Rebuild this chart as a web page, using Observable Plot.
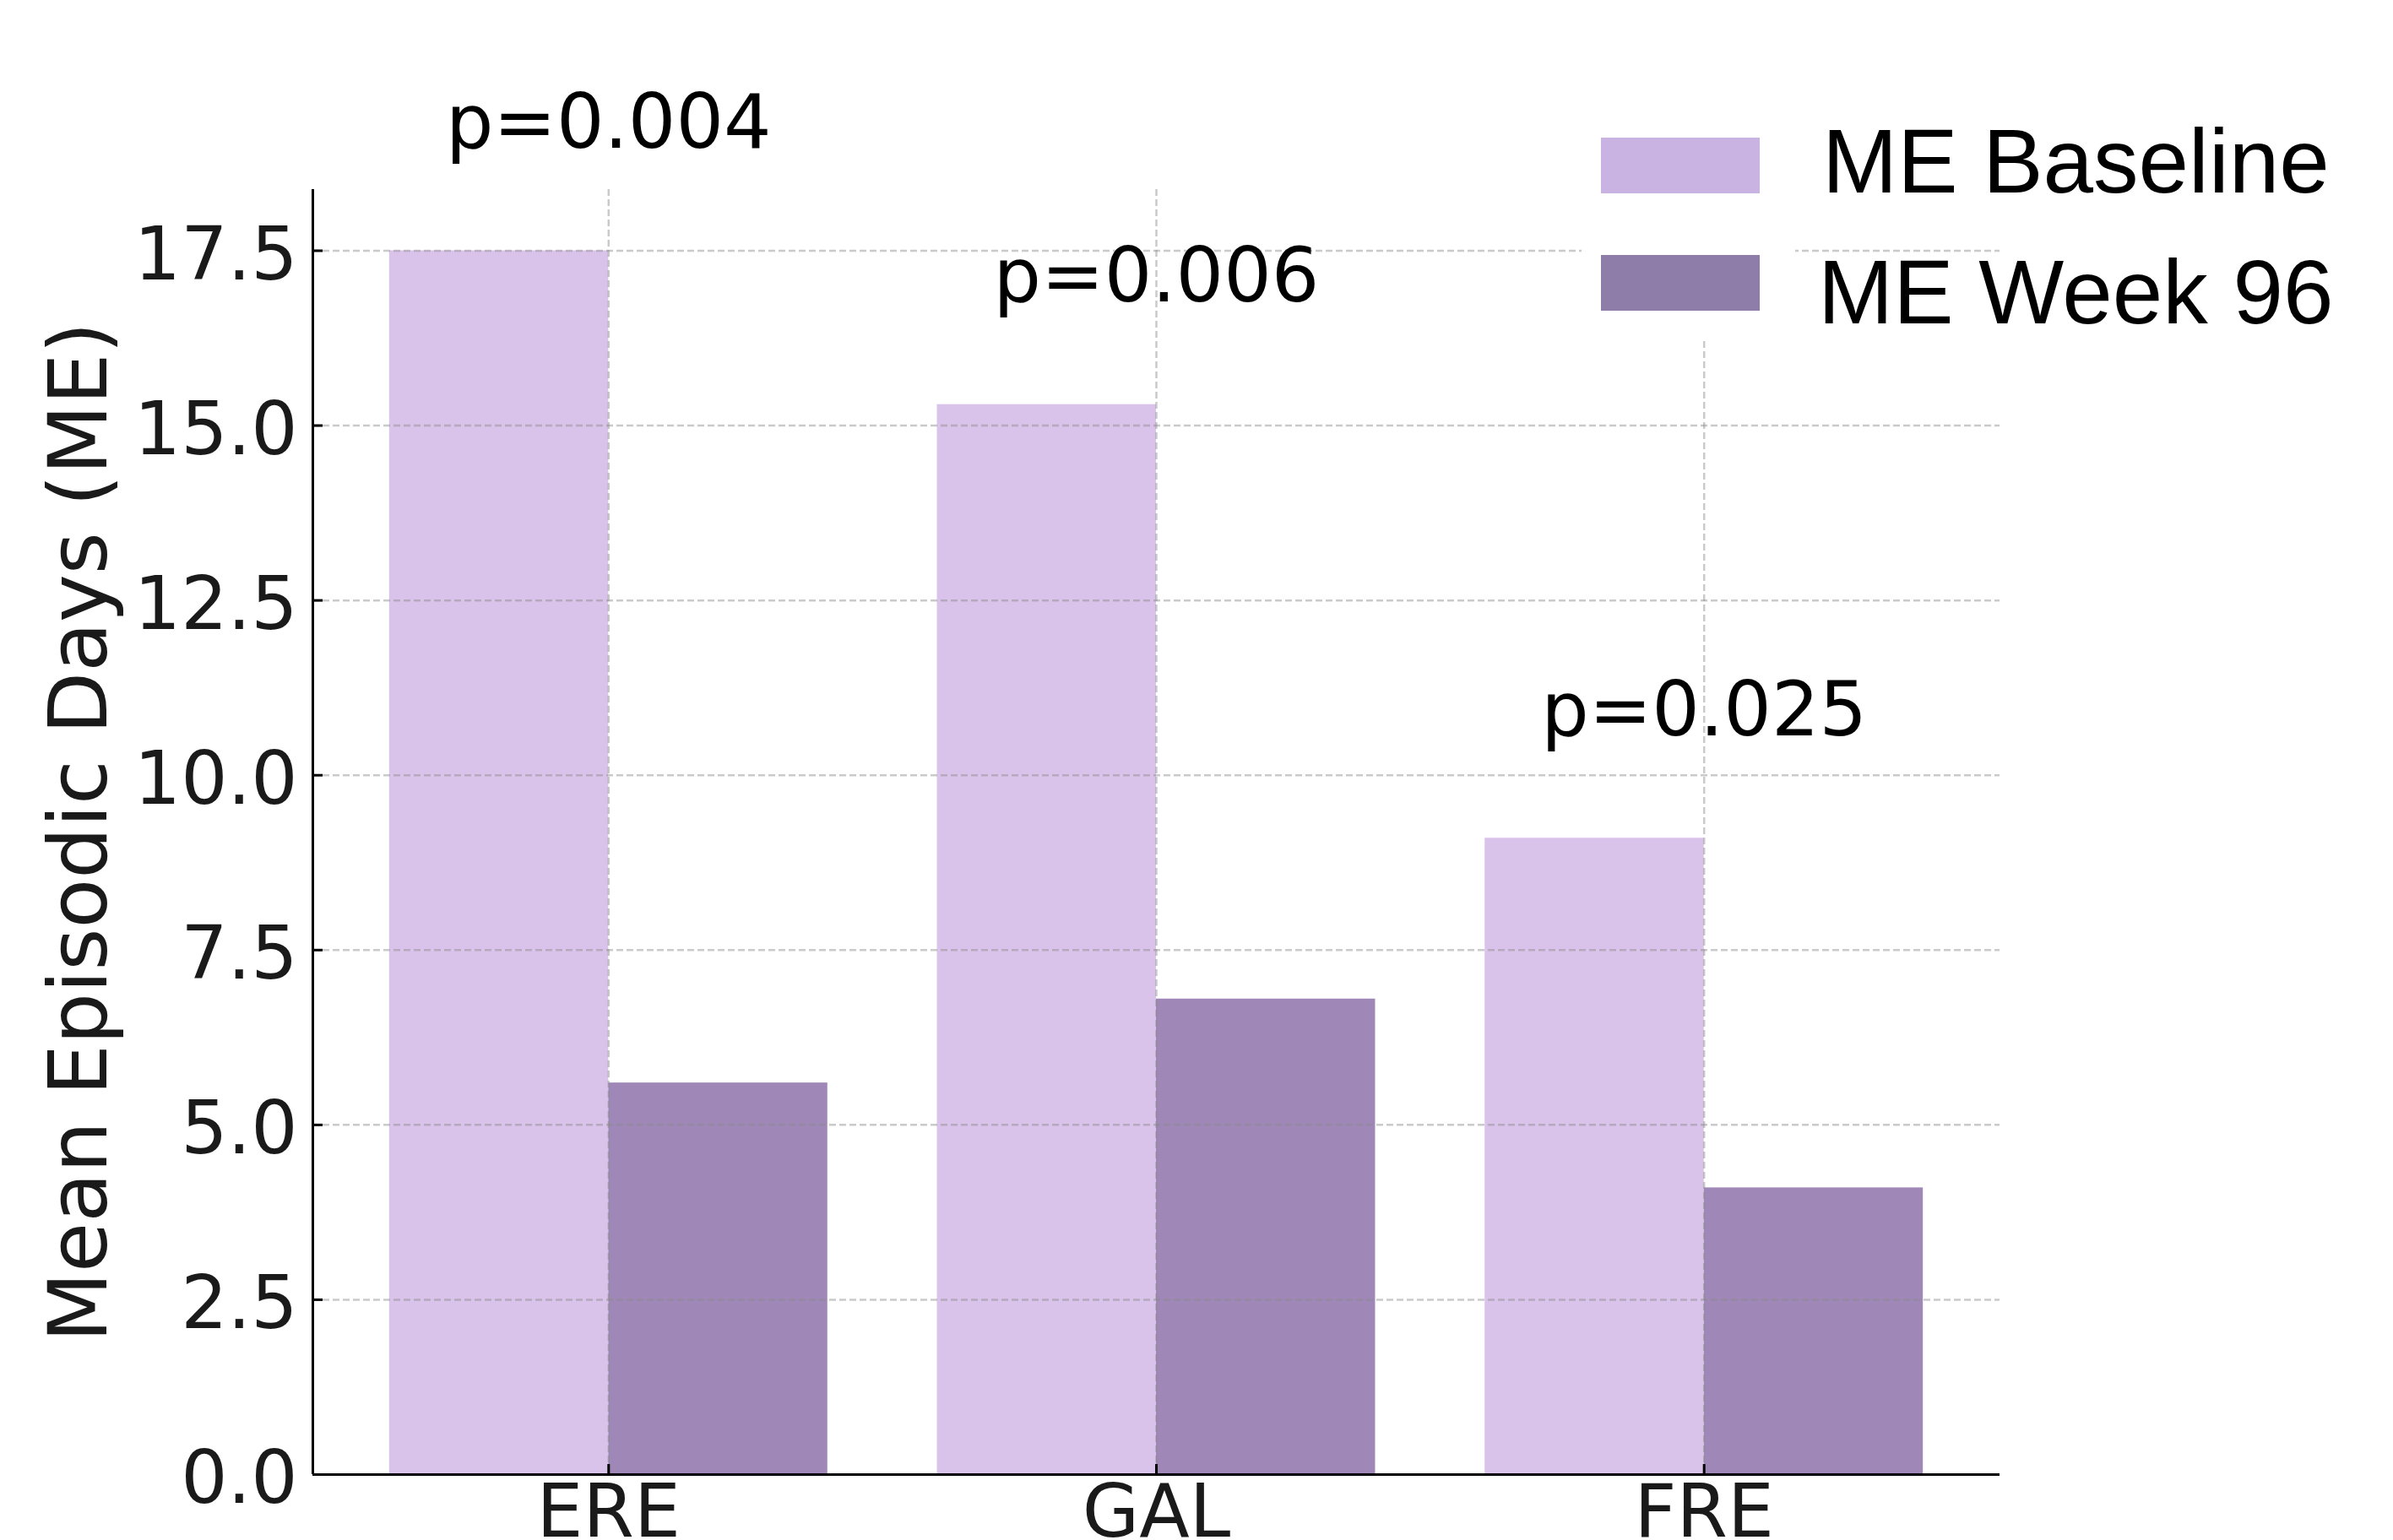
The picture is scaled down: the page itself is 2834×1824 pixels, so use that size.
<!DOCTYPE html>
<html>
<head>
<meta charset="utf-8">
<script src="https://cdn.jsdelivr.net/npm/d3@7"></script>
<script src="https://cdn.jsdelivr.net/npm/@observablehq/plot@0.6"></script>
<style>
html, body { margin: 0; padding: 0; background: #fff; }
#wrap { position: relative; width: 2834px; height: 1824px; overflow: hidden; background: #fff; }
#wrap svg { position: absolute; left: 0; top: 0; }
</style>
</head>
<body>
<div id="wrap"></div>
<script>
// ---- data ----
const categories = ["ERE", "GAL", "FRE"];
const seriesNames = ["ME Baseline", "ME Week 96"];
const baseline = [17.5, 15.3, 9.1];
const week96 = [5.6, 6.8, 4.1];
const pValues = ["0.004", "0.006", "0.025"];
const yTicks = [0, 2.5, 5, 7.5, 10, 12.5, 15, 17.5];
const yLabel = "Mean Episodic Days (ME)";

// ---- styles ----
const barColors = ["#dac3ea", "#9f88b8"];
const legendColors = ["#c9b3e3", "#8e7da8"];
const barWidth = 0.4;
const pOffset = 1.47;

const n = categories.length;
const xIdx = categories.map((_, i) => i);
const pad = 0.05 * ((n - 1) + 2 * barWidth);
const xDomain = [-barWidth - pad, (n - 1) + barWidth + pad];
const yMax = d3.max(baseline.concat(week96)) * 1.05;

const baseRows = categories.map((c, i) => ({cat: c, x1: i - barWidth, x2: i, value: baseline[i]}));
const weekRows = categories.map((c, i) => ({cat: c, x1: i, x2: i + barWidth, value: week96[i]}));
const pRows = categories.map((c, i) => ({x: i, y: Math.max(baseline[i], week96[i]) + pOffset, label: "p=" + pValues[i]}));

const gridStyle = {stroke: "#8a8a8a", strokeOpacity: 0.45, strokeWidth: 2.5, strokeDasharray: "8,4"};

const chart = Plot.plot({
  width: 2834,
  height: 1824,
  marginTop: 224,
  marginBottom: 78,
  marginLeft: 370,
  marginRight: 466,
  style: {fontFamily: "DejaVu Sans", background: "#fff", color: "#1a1a1a", overflow: "visible"},
  x: {type: "linear", domain: xDomain},
  y: {domain: [0, yMax]},
  marks: [
    Plot.rect(baseRows, {x1: "x1", x2: "x2", y1: 0, y2: "value", fill: barColors[0]}),
    Plot.rect(weekRows, {x1: "x1", x2: "x2", y1: 0, y2: "value", fill: barColors[1]}),
    Plot.gridY(yTicks.filter(d => d > 0), gridStyle),
    Plot.gridX(xIdx, gridStyle),
    Plot.ruleY([0], {stroke: "#000", strokeWidth: 3}),
    Plot.ruleX([xDomain[0]], {stroke: "#000", strokeWidth: 3}),
    Plot.axisY(yTicks, {tickSize: 12, dx: 12, tickFormat: () => "", label: null, stroke: "#000", strokeWidth: 3}),
    Plot.axisY(yTicks, {tickSize: 0, tickPadding: 18, tickFormat: d3.format(".1f"), fontSize: 87, dy: 6, label: null}),
    Plot.axisX(xIdx, {tickSize: 12, dy: -12, tickFormat: () => "", label: null, stroke: "#000", strokeWidth: 3}),
    Plot.axisX(xIdx, {tickSize: 0, tickPadding: 12, tickFormat: i => categories[i], fontSize: 87, label: null}),
    Plot.text(pRows, {x: "x", y: "y", text: "label", lineAnchor: "bottom", textAnchor: "middle", fontSize: 89, fill: "#000"}),
    Plot.text([yLabel], {frameAnchor: "left", rotate: -90, dx: -245, lineAnchor: "bottom", textAnchor: "middle", fontSize: 96, fill: "#1a1a1a"})
  ]
});
document.getElementById("wrap").appendChild(chart);

// ---- legend overlay ----
const leg = d3.select("#wrap").append("svg")
  .attr("width", 2834).attr("height", 1824)
  .style("pointer-events", "none");
leg.append("rect").attr("x", 1873).attr("y", 130).attr("width", 253).attr("height", 274).attr("fill", "#fff");
const legY = [163, 302];
const legBase = [228, 383];
const legX = [2158, 2153];
seriesNames.forEach((name, i) => {
  leg.append("rect")
    .attr("x", 1896).attr("y", legY[i]).attr("width", 188).attr("height", 66)
    .attr("fill", legendColors[i]);
  leg.append("text")
    .attr("x", legX[i]).attr("y", legBase[i])
    .attr("font-family", "'Liberation Sans', Arial, sans-serif")
    .attr("font-size", 107)
    .attr("fill", "#000")
    .text(name);
});
</script>
</body>
</html>
